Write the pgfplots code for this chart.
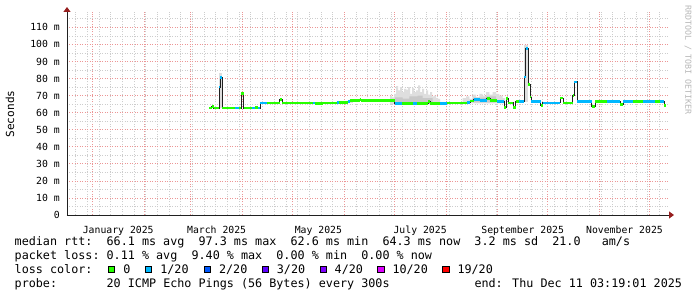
\documentclass[border=0pt]{standalone}
\usepackage{pgfplots}
\pgfplotsset{compat=1.18}
\usepackage{pgfplotstable}
\usepackage{fontspec}
\usetikzlibrary{arrows.meta}
\newfontfamily\rrd{DejaVu Sans Mono}
\definecolor{mgrid}{RGB}{236,150,150}
\definecolor{ggrid}{RGB}{205,205,205}
\definecolor{arrowred}{RGB}{150,30,30}
\definecolor{lc0}{HTML}{26FF00}
\definecolor{lc1}{HTML}{00B8FF}
\definecolor{lc2}{HTML}{0059FF}
\definecolor{lc3}{HTML}{5E00FF}
\definecolor{lc4}{HTML}{7E00FF}
\definecolor{lc10}{HTML}{DD00FF}
\definecolor{lc19}{HTML}{FF0000}
\definecolor{smokeA}{RGB}{222,222,222}
\definecolor{smokeB}{RGB}{200,200,200}
\definecolor{medline}{HTML}{202020}

\pgfplotstableread{
x y dx c
70.0 62.7 1.5 0
71.5 63.4 1.2 0
72.7 62.7 3.4 0
76.1 75.0 0.5 1
76.6 80.5 1.3 1
77.9 62.7 7.7 0
85.6 62.7 2.4 1
88.0 62.7 1.4 0
89.4 71.0 1.3 0
90.7 62.7 4.9 0
95.6 62.7 2.0 1
97.6 63.2 1.5 0
99.1 62.7 1.4 1
100.5 65.7 4.0 1
104.5 65.7 7.9 0
112.4 67.6 1.3 0
113.7 65.7 18.3 0
132.0 65.7 1.5 1
133.5 65.4 4.5 0
138.0 65.7 8.5 0
146.5 65.8 1.5 1
148.0 65.9 5.0 0
153.0 66.5 1.2 1
154.2 67.0 1.0 0
155.2 67.1 5.0 0
160.2 67.5 1.0 0
161.2 67.2 20.2 0
181.4 65.5 4.0 1
185.4 65.5 7.0 0
192.4 65.5 2.0 1
194.4 65.5 6.9 0
201.3 66.5 1.2 0
202.5 65.5 6.0 0
208.5 65.5 4.0 1
212.5 65.6 12.0 0
224.5 66.0 2.0 1
226.5 66.8 2.0 0
228.5 67.6 3.9 1
232.4 67.3 4.0 1
236.4 68.2 2.0 0
238.4 67.3 4.0 0
242.4 66.3 4.4 1
246.8 63.0 1.2 0
248.0 68.2 1.4 0
249.4 65.7 3.0 0
252.4 62.8 1.4 0
253.8 66.3 2.2 0
256.0 66.3 3.0 1
259.0 80.9 0.8 1
259.8 97.5 1.6 1
261.4 76.4 1.0 0
262.4 69.2 0.6 0
263.0 66.3 5.8 1
268.8 64.3 1.2 0
270.0 65.7 10.4 1
280.4 68.6 2.0 0
282.4 65.7 5.6 0
288.0 70.2 1.0 0
289.0 78.0 1.8 1
290.8 66.3 8.6 1
299.4 63.7 2.0 0
301.4 66.3 7.0 0
308.4 66.3 8.0 1
316.4 64.9 2.0 0
318.4 66.3 6.0 1
324.4 66.3 6.0 0
330.4 66.3 7.0 1
337.4 66.3 3.0 0
340.4 66.3 2.4 1
342.8 64.3 1.2 0
344.0 64.3 0.0 0
}\median

\begin{document}
\begin{tikzpicture}
\fill[white] (0pt,0pt) rectangle (697pt,297pt);
\begin{axis}[
  at={(67pt,82pt)}, anchor=south west, scale only axis,
  width=602pt, height=203pt,
  xmin=-15.2, xmax=345.7, ymin=0, ymax=119,
  axis lines=left,
  axis line style={medline, line width=0.9pt, -{Triangle[length=5pt,width=7pt,color=arrowred]}, shorten >=-5pt},
  major tick length=0pt, minor tick length=0pt,
  ytick={0,10,...,110},
  yticklabels={0,10 m,20 m,30 m,40 m,50 m,60 m,70 m,80 m,90 m,100 m,110 m},
  minor ytick={5,15,...,115},
  xtick={0,31,59,90,120,151,181,212,243,273,304,334},
  xticklabels={},
  minor xtick={-10,-3,...,340},
  extra x ticks={15.5,74.5,135.5,196.5,258,319},
  extra x tick labels={January 2025,March 2025,May 2025,July 2025,September 2025,November 2025},
  extra x tick style={xmajorgrids=false, xticklabel style={font=\rrd\fontsize{9.8}{11}\selectfont, anchor=north, inner sep=0pt, yshift=-5.5pt}},
  xmajorgrids=true, ymajorgrids=true, xminorgrids=true, yminorgrids=true,
  major grid style={mgrid, line width=0.7pt, dash pattern=on 1pt off 1.5pt},
  minor grid style={ggrid, line width=0.7pt, dash pattern=on 1pt off 1.5pt},
  yticklabel style={font=\rrd\fontsize{9.8}{11}\selectfont, anchor=east, inner sep=0pt, xshift=-7pt},
  xticklabel style={font=\rrd\fontsize{9.8}{11}\selectfont, anchor=north, inner sep=0pt, yshift=-5.5pt},
  clip=false,
]
% smoke
\addplot[fill=smokeA, draw=none] coordinates {(178.5,65) (178.5,70) (179.7,70) (179.7,69) (180.9,69) (180.9,71) (182.1,71) (182.1,75.5) (183.3,75.5) (183.3,73) (184.5,73) (184.5,75) (185.7,75) (185.7,72) (186.9,72) (186.9,74) (188.1,74) (188.1,73.5) (189.3,73.5) (189.3,75) (190.5,75) (190.5,71) (191.7,71) (191.7,74.5) (192.9,74.5) (192.9,72) (194.1,72) (194.1,73) (195.3,73) (195.3,76) (196.5,76) (196.5,72) (197.7,72) (197.7,74) (198.9,74) (198.9,71) (200.1,71) (200.1,73) (201.3,73) (201.3,70.5) (202.5,70.5) (202.5,72) (203.7,72) (203.7,69.5) (204.9,69.5) (204.9,70) (206.1,70) (206.1,68.5) (207.3,68.5) (207.3,68) (208.5,68) (208.5,65)};
\addplot[fill=smokeB, draw=none] coordinates {(181.4,65) (181.4,69) (186,69) (186,68.2) (190,68.2) (190,69.5) (195,69.5) (195,70) (198,70) (198,68.5) (204,68.5) (204,65)};
\addplot[fill=smokeA, draw=none] coordinates {(222,65.5) (222,68.5) (224,68.5) (224,69.5) (226,69.5) (226,68) (228,68) (228,70.5) (230,70.5) (230,69) (232,69) (232,71) (234,71) (234,70) (236,70) (236,72) (238,72) (238,70.5) (240,70.5) (240,72) (242,72) (242,71) (244,71) (244,70) (246,70) (246,68.5) (247.4,68.5) (247.4,65.5)};
\addplot[fill=smokeB, draw=none] coordinates {(228,66) (228,68.8) (236,68.8) (236,69.5) (242,69.5) (242,66)};
\addplot[fill=smokeA, draw=none] coordinates {(154.3,65.5) (154.3,68) (156.5,68) (156.5,65.5)};
\addplot[fill=smokeA, draw=none] coordinates {(76.1,62.7) (76.1,83.5) (77.9,83.5) (77.9,62.7)};
\addplot[fill=smokeA, draw=none] coordinates {(259.0,66) (259.0,99.5) (261.4,99.5) (261.4,66)};
% median line
\addplot[medline, line width=0.9pt, const plot mark left] table[x=x,y=y] {\median};
% loss-coloured bands
\addplot[lc0, line width=2.8pt, quiver={u=\thisrow{dx}, v=0}, restrict expr to domain={\thisrow{c}}{0:0}] table[x=x,y=y] {\median};
\addplot[lc1, line width=2.8pt, quiver={u=\thisrow{dx}, v=0}, restrict expr to domain={\thisrow{c}}{1:1}] table[x=x,y=y] {\median};
\end{axis}
% axis title and watermark
\node[rotate=90, font=\rrd\fontsize{11.1}{13}\selectfont, inner sep=0pt] at (10pt,183pt) {Seconds};
\node[rotate=-90, font=\rrd\fontsize{8.3}{10}\selectfont, text=black!28, inner sep=0pt] at (688pt,237pt) {RRDTOOL / TOBI OETIKER};
% legend
\begin{scope}[every node/.style={anchor=base west, inner sep=0pt, font=\rrd\fontsize{11.75}{14}\selectfont}]
\node at (14.5pt,51.3pt) {median rtt:~~66.1 ms avg~~97.3 ms max~~62.6 ms min~~64.3 ms now~~3.2 ms sd~~21.0~~~am/s};
\node at (14.5pt,37.5pt) {packet loss:~0.11 \% avg~~9.40 \% max~~0.00 \% min~~0.00 \% now};
\node at (14.5pt,23.5pt) {loss color:};
\node at (14.5pt,9.5pt) {probe:~~~~~~~20 ICMP Echo Pings (56 Bytes) every 300s~~~~~~~~~~~~end: Thu Dec 11 03:19:01 2025};
\foreach \bx/\col/\lab in {108.2/lc0/0, 145.1/lc1/1\slash 20, 203.9/lc2/2\slash 20, 261.7/lc3/3\slash 20, 319.5/lc4/4\slash 20, 377.3/lc10/10\slash 20, 442.3/lc19/19\slash 20}{
  \draw[fill=\col, draw=black, line width=0.8pt] (\bx pt+0.4pt,24.2pt) rectangle ++(6.2pt,6.2pt);
  \node at (\bx pt+15pt,23.5pt) {\lab};
}
\end{scope}
\end{tikzpicture}
\end{document}
